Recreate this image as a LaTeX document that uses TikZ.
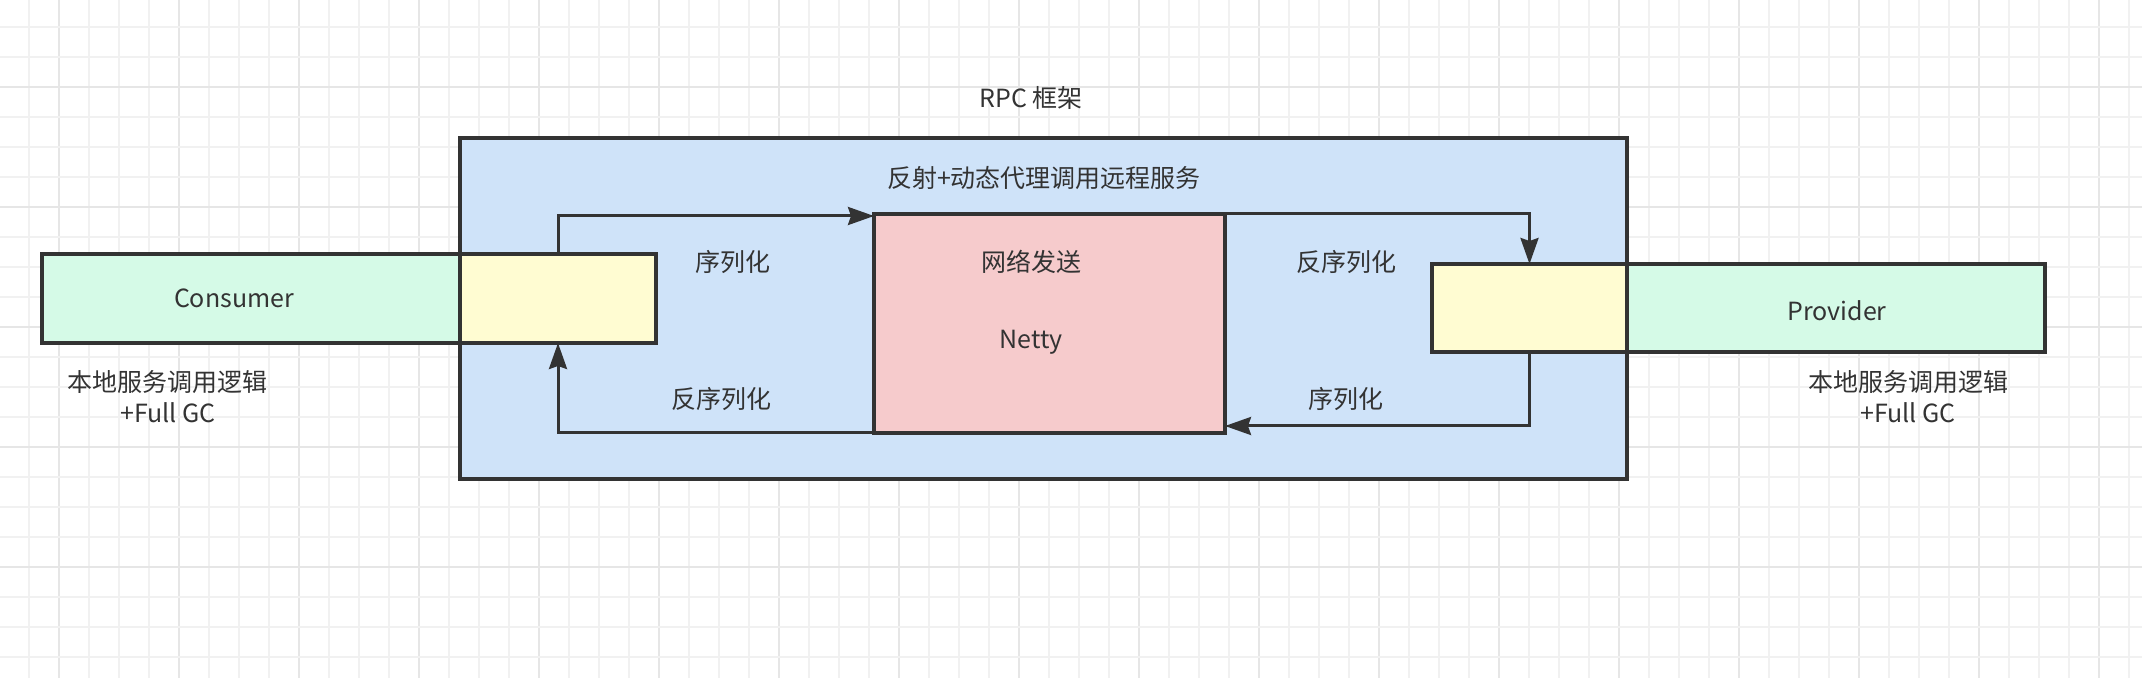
\documentclass[tikz,border=0pt]{standalone}
\usepackage{fontspec}
\setmainfont{Noto Sans CJK SC}
\usetikzlibrary{arrows.meta}
\definecolor{edge}{HTML}{333333}
\definecolor{ink}{HTML}{333333}
\definecolor{rpcblue}{HTML}{CFE3F9}
\definecolor{localgreen}{HTML}{D5FAE7}
\definecolor{stubyellow}{HTML}{FFFCD2}
\definecolor{nettyred}{HTML}{F6CBCC}
\definecolor{gridminor}{HTML}{F1F1F1}
\definecolor{gridmajor}{HTML}{E6E6E6}
\tikzset{
  box/.style={draw=edge, line width=2pt, inner sep=0pt, outer sep=0pt},
  flow/.style={draw=edge, line width=1.5pt, -{Stealth[length=13pt,width=9pt,inset=1.5pt]}},
  lbl/.style={text=ink, font=\fontsize{12.5}{15.5}\selectfont, align=center},
}
\begin{document}
\begin{tikzpicture}[x=0.5pt, y=-0.5pt]
  \useasboundingbox (0, 0) rectangle (2142, 678);
  \fill[white] (0, 0) rectangle (2142, 678);
  % background grid
  \foreach \k in {0,...,70} {
    \pgfmathsetmacro{\gx}{29+30*\k}
    \pgfmathtruncatemacro{\gm}{mod(\k,4)}
    \ifnum\gm=1 \draw[gridmajor, line width=1pt] (\gx, 0) -- (\gx, 678);
    \else \draw[gridminor, line width=1pt] (\gx, 0) -- (\gx, 678); \fi
  }
  \foreach \k in {0,...,22} {
    \pgfmathsetmacro{\gy}{27+30*\k}
    \pgfmathtruncatemacro{\gm}{mod(\k,4)}
    \ifnum\gm=2 \draw[gridmajor, line width=1pt] (0, \gy) -- (2142, \gy);
    \else \draw[gridminor, line width=1pt] (0, \gy) -- (2142, \gy); \fi
  }
  % boxes
  \node[box, fill=rpcblue, minimum width=583.5pt, minimum height=170.5pt] (rpc) at (1043.5, 308.5) {};
  \node[box, fill=localgreen, minimum width=209pt, minimum height=44.5pt] (cons) at (251, 298.5) {};
  \node[box, fill=stubyellow, minimum width=98pt, minimum height=44.5pt] (consstub) at (558, 298.5) {};
  \node[box, fill=nettyred, minimum width=175.5pt, minimum height=109.5pt] (netty) at (1049.5, 323.5) {};
  \node[box, fill=stubyellow, minimum width=97.5pt, minimum height=44pt] (provstub) at (1529.5, 308) {};
  \node[box, fill=localgreen, minimum width=209pt, minimum height=44pt] (prov) at (1836, 308) {};
  % texts
  \node[lbl] (rpctitle) at (1031, 98) {RPC 框架};
  \node[lbl] (proxy) at (1044, 178) {反射+动态代理调用远程服务};
  \node[lbl] (conslbl) at (234, 298) {Consumer};
  \node[lbl] (provlbl) at (1837, 311) {Provider};
  \node[lbl] (send) at (1031, 262) {网络发送};
  \node[lbl] (nettylbl) at (1031, 342) {Netty};
  \node[lbl] (conslocal) at (168, 397) {本地服务调用逻辑\\+Full GC};
  \node[lbl] (provlocal) at (1908, 397) {本地服务调用逻辑\\+Full GC};
  \node[lbl] (ser1) at (733, 262) {序列化};
  \node[lbl] (deser1) at (721, 399) {反序列化};
  \node[lbl] (deser2) at (1346, 262) {反序列化};
  \node[lbl] (ser2) at (1346, 399) {序列化};
  % flows
  \draw[flow] (consstub.north) |- ([yshift=-1pt]netty.north west);
  \draw[flow] (netty.south west) -| (consstub.south);
  \draw[flow] (netty.north east) -| (provstub.north);
  \draw[flow] (provstub.south) |- ([yshift=3.5pt]netty.south east);
\end{tikzpicture}
\end{document}
